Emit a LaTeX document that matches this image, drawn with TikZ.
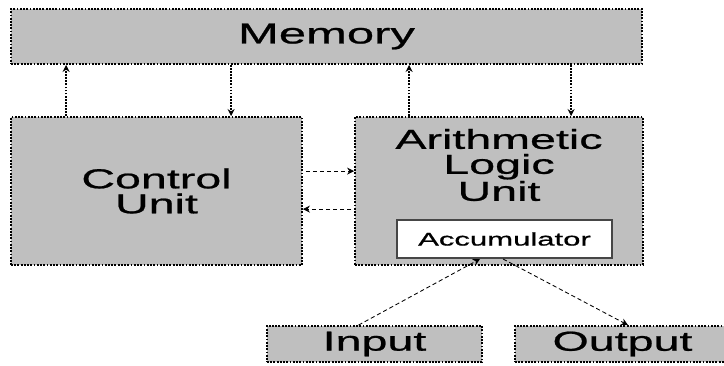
\documentclass[tikz,border=0pt]{standalone}
\usepackage{fontspec}
\setmainfont[FakeStretch=1.7, FakeBold=0.8]{Liberation Sans}
\usetikzlibrary{calc, arrows.meta}

\tikzset{
    unitbox/.style={draw=black, fill=gray!50, line width=1.3pt,
        dash pattern=on 1.3pt off 1pt, inner sep=0pt},
    accbox/.style={draw=gray!55!black, fill=white, line width=1.4pt, inner sep=0pt},
    bus/.style={->, line width=1.2pt, densely dotted},
    link/.style={->, line width=0.6pt, densely dashed},
    big/.style={font=\fontsize{19.5}{17.8}\selectfont},
}

\begin{document}
\begin{tikzpicture}[x=0.25mm, y=-0.25mm, >={Stealth[length=5pt, width=5pt]}]
    \useasboundingbox (0,0) rectangle (724,365);

    % Khối chính
    \node[unitbox, minimum width=631*0.25mm, minimum height=55*0.25mm,
        font=\fontsize{20.5}{19}\selectfont] (mem) at (326.5,36.5) {Memory};
    \node[unitbox, big, minimum width=291*0.25mm, minimum height=148*0.25mm, align=center]
        (ctrl) at (156.5,191) {Control\\Unit};
    \node[unitbox, minimum width=288*0.25mm, minimum height=148*0.25mm] (alu) at (499,191) {};
    \node[big, align=center] (alutxt) at (499,165) {Arithmetic\\Logic\\Unit};
    \node[accbox, minimum width=215*0.25mm, minimum height=38*0.25mm,
        font=\fontsize{13}{13}\selectfont] (acc) at (504.5,239) {Accumulator};

    % Vào / ra
    \node[unitbox, big, minimum width=215*0.25mm, minimum height=36*0.25mm] (in) at (374.5,344) {Input};
    \node[unitbox, big, minimum width=215*0.25mm, minimum height=36*0.25mm] (out) at (622.5,344) {Output};

    % Đường nối với bộ nhớ
    \coordinate (c1) at ($(ctrl.north west)+(56,0)$);
    \coordinate (c2) at ($(ctrl.north west)+(221,0)$);
    \coordinate (a1) at ($(alu.north west)+(55,0)$);
    \coordinate (a2) at ($(alu.north west)+(217,0)$);
    \draw[bus] (c1) -- (c1 |- mem.south);
    \draw[bus] (c2 |- mem.south) -- (c2);
    \draw[bus] (a1) -- (a1 |- mem.south);
    \draw[bus] (a2 |- mem.south) -- (a2);

    % Giữa khối điều khiển và ALU
    \coordinate (h1) at ($(ctrl.north east)+(3,55)$);
    \coordinate (h2) at ($(alu.north west)+(-3,93)$);
    \draw[link] (h1) -- (h1 -| alu.west);
    \draw[link] (h2) -- (h2 -| ctrl.east);

    % Vào / ra qua thanh ghi tích lũy
    \draw[link] ($(in.north)+(-16,0)$) -- ($(acc.south)+(-24.5,0)$);
    \draw[link] ($(acc.south)+(-1.5,0)$) -- ($(out.north)+(5.5,0)$);
\end{tikzpicture}
\end{document}
